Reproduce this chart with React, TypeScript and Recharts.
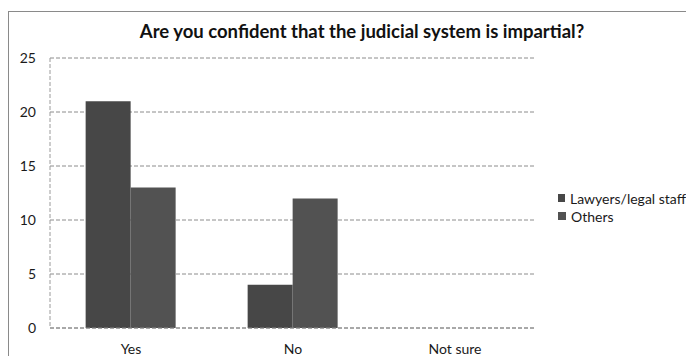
import { BarChart, Bar, XAxis, YAxis, CartesianGrid, Legend } from 'recharts'

const categories = ['Yes', 'No', 'Not sure']
const lawyers = [21, 4, 0]
const others = [13, 12, 0]
const yTicks = [0, 5, 10, 15, 20, 25]

const seriesNames = ['Lawyers/legal staff', 'Others']
const seriesColors = ['#474747', '#525252']

const data = categories.map((name, i) => ({
  name,
  lawyers: lawyers[i],
  others: others[i],
}))

const FONT = 'Lato, "Open Sans", sans-serif'

function LegendBox() {
  return (
    <div style={{ fontFamily: FONT, fontSize: 14, color: '#1a1a1a' }}>
      {seriesNames.map((s, i) => (
        <div key={s} style={{ display: 'flex', alignItems: 'center', height: 18, whiteSpace: 'nowrap' }}>
          <span style={{ width: 8, height: 8, background: seriesColors[i], marginRight: 5, display: 'inline-block' }} />
          {s}
        </div>
      ))}
    </div>
  )
}

export default function App() {
  return (
    <div style={{ position: 'absolute', left: 0, top: 0, width: 686, height: 356, overflow: 'hidden', background: '#fff' }}>
      {/* scanned frame */}
      <div style={{ position: 'absolute', left: 8, top: 11, width: 720, height: 400, border: '1px solid #8a8a8a' }} />
      <div
        style={{
          position: 'absolute',
          left: 0,
          top: 20,
          width: 724,
          textAlign: 'center',
          fontFamily: FONT,
          fontWeight: 'bold',
          fontSize: 18.5,
          color: '#111',
        }}
      >
        Are you confident that the judicial system is impartial?
      </div>
      <BarChart
        width={686}
        height={356}
        data={data}
        margin={{ top: 58, right: 150, left: 0, bottom: 0 }}
        barCategoryGap="22%"
        barGap={0}
        style={{ position: 'absolute', left: 0, top: 0 }}
      >
        <CartesianGrid vertical={false} stroke="#8c8c8c" strokeDasharray="4 2" />
        <XAxis
          dataKey="name"
          height={28}
          axisLine={{ stroke: '#8c8c8c', strokeDasharray: '4 2' }}
          tickLine={false}
          tickMargin={10}
          tick={{ fill: '#1a1a1a', fontSize: 14, fontFamily: FONT }}
        />
        <YAxis
          width={50}
          domain={[0, 25]}
          ticks={yTicks}
          axisLine={{ stroke: '#9a9a9a', strokeDasharray: '4 2' }}
          tickLine={false}
          tickMargin={8}
          tick={{ fill: '#1a1a1a', fontSize: 14, fontFamily: FONT }}
        />
        <Legend
          layout="horizontal"
          verticalAlign="middle"
          content={() => <LegendBox />}
          wrapperStyle={{ position: 'absolute', left: 558, top: 189, width: 128 }}
        />
        <Bar dataKey="lawyers" name={seriesNames[0]} fill={seriesColors[0]} isAnimationActive={false} />
        <Bar dataKey="others" name={seriesNames[1]} fill={seriesColors[1]} isAnimationActive={false} />
      </BarChart>
    </div>
  )
}
